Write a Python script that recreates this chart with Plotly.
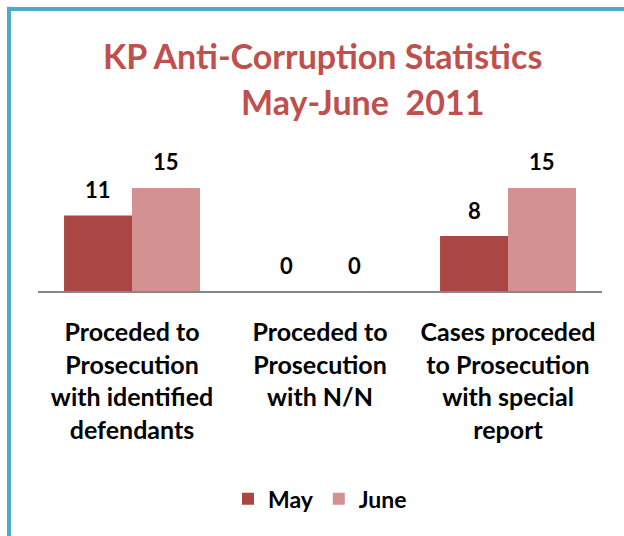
import plotly.graph_objects as go

categories = [
    "Proceded to<br>Prosecution<br>with identified<br>defendants",
    "Proceded to<br>Prosecution<br>with N/N",
    "Cases proceded<br>to Prosecution<br>with special<br>report",
]
series_names = ["May", "June"]
may_values = [11, 0, 8]
june_values = [15, 0, 15]
title_line1 = "KP Anti-Corruption Statistics"
title_line2 = "May-June  2011"

FONT = "Lato"
may_color = "#AA4644"
june_color = "#D39291"
title_color = "#C0504D"
frame_color = "#4BACC6"

fig = go.Figure()
fig.add_trace(go.Bar(x=categories, y=may_values, name=series_names[0],
                     marker=dict(color=may_color, line=dict(width=0))))
fig.add_trace(go.Bar(x=categories, y=june_values, name=series_names[1],
                     marker=dict(color=june_color, line=dict(width=0))))

annotations = []
for vals, shift in ((may_values, -34), (june_values, 34)):
    for c, v in zip(categories, vals):
        annotations.append(dict(x=c, y=v, xref="x", yref="y", text=str(v),
                                showarrow=False, xshift=shift, yshift=26,
                                font=dict(family=FONT, size=22, color="black", weight="bold")))

# plot area: x 38..602 px, y 181..291 px
annotations.append(dict(x=(322 - 38) / 564, y=2.145, xref="paper", yref="paper", text=title_line1,
                        showarrow=False, xanchor="center", yanchor="middle",
                        font=dict(family=FONT, size=34, color=title_color, weight="bold")))
annotations.append(dict(x=(362 - 38) / 564, y=1.727, xref="paper", yref="paper", text=title_line2,
                        showarrow=False, xanchor="center", yanchor="middle",
                        font=dict(family=FONT, size=34, color=title_color, weight="bold")))

fx = (9 - 38) / 564
fy = (291 - 9) / 110
shapes = [
    dict(type="line", xref="paper", yref="paper", x0=fx, x1=fx, y0=-3.0, y1=fy + 0.02,
         line=dict(color=frame_color, width=4)),
    dict(type="line", xref="paper", yref="paper", x0=fx - 0.0035, x1=1.2, y0=fy, y1=fy,
         line=dict(color=frame_color, width=4)),
]

fig.update_layout(
    width=624, height=536,
    margin=dict(l=38, r=22, t=181, b=245),
    paper_bgcolor="white", plot_bgcolor="white",
    barmode="group", bargap=0.277, bargroupgap=0,
    showlegend=True,
    legend=dict(orientation="h", x=0.5, xanchor="center", y=-1.89, yanchor="middle",
                font=dict(family=FONT, size=23, color="black", weight="bold"),
                itemwidth=30, tracegroupgap=0),
    xaxis=dict(showline=True, linecolor="#868686", linewidth=2, ticks="",
               tickfont=dict(family=FONT, size=25, color="black", weight="bold"),
               ticklabelstandoff=18, showgrid=False, zeroline=False),
    yaxis=dict(range=[0, 16], visible=False, showgrid=False, zeroline=False),
    annotations=annotations,
    shapes=shapes,
    font=dict(family=FONT),
)

fig.write_html("out.html", config={"displayModeBar": False},
               post_script="document.body.style.margin='0';")
